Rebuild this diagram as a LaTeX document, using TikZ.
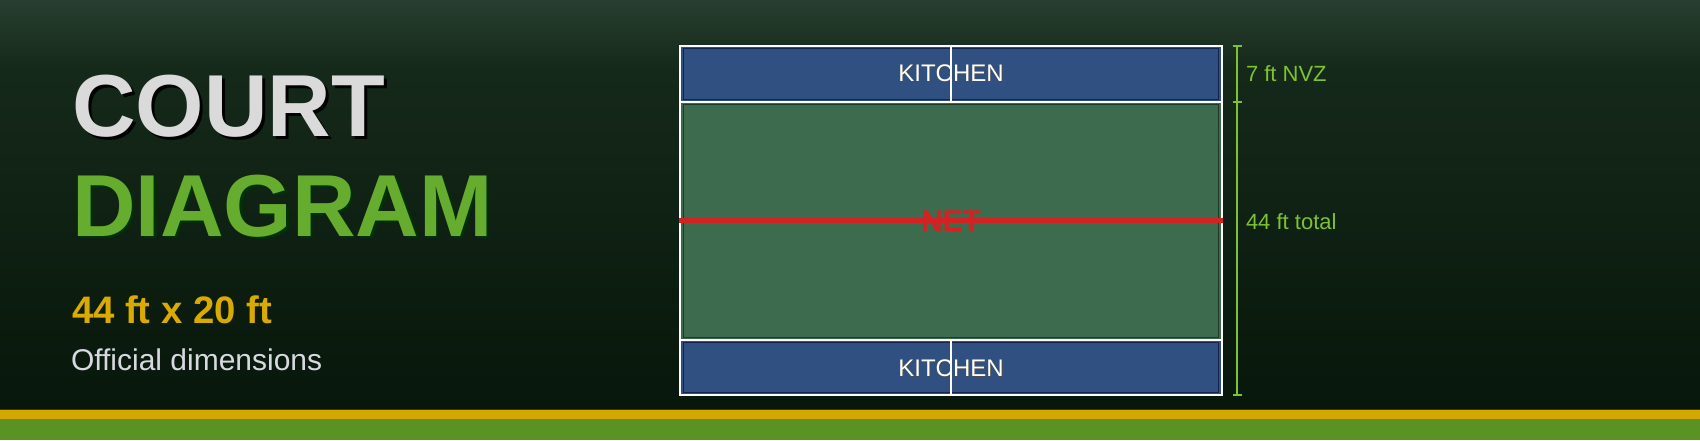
\documentclass[tikz,border=0pt]{standalone}
\usepackage{fontspec}
\setmainfont{Liberation Sans}
\definecolor{bgtop}{HTML}{283E30}
\definecolor{bgmid}{HTML}{15291A}
\definecolor{bgbot}{HTML}{07170B}
\definecolor{kitblue}{HTML}{2F5080}
\definecolor{kitedge}{HTML}{14244A}
\definecolor{courtgreen}{HTML}{3D6B4E}
\definecolor{courtedge}{HTML}{1E3A26}
\definecolor{netred}{HTML}{D42222}
\definecolor{lime}{HTML}{7DC232}
\definecolor{titlegray}{HTML}{DADADA}
\definecolor{titlegreen}{HTML}{66AC2E}
\definecolor{gold}{HTML}{D9AA00}
\definecolor{subgray}{HTML}{D8D8E0}
\definecolor{barGold}{HTML}{D4A600}
\definecolor{barGreen}{HTML}{5A9324}
\tikzset{
  txt/.style={inner sep=0pt, outer sep=0pt},
  whiteline/.style={draw=white, line width=2.2pt},
  dimline/.style={draw=lime, line width=2pt},
}
\begin{document}
\begin{tikzpicture}[x=1pt,y=-1pt]
\useasboundingbox (0,0) rectangle (1700,440);
% background
\shade[top color=bgtop, bottom color=bgmid] (0,0) rectangle (1700,70);
\shade[top color=bgmid, bottom color=bgbot] (0,70) rectangle (1700,410);
% bottom bars
\fill[black!80] (0,408.5) rectangle (1700,410.5);
\fill[barGold] (0,410) rectangle (1700,418.5);
\fill[barGreen] (0,418.5) rectangle (1700,440);

% left titles
\node[txt, anchor=base west, text=black, font=\bfseries\fontsize{88}{92}\selectfont] (courtS) at (75,139) {COURT};
\node[txt, anchor=base west, text=titlegray, font=\bfseries\fontsize{88}{92}\selectfont] (court) at (72,136) {COURT};
\node[txt, anchor=base west, text=black!80!green, font=\bfseries\fontsize{88}{92}\selectfont] (diagS) at (74.5,238.5) {DIAGRAM};
\node[txt, anchor=base west, text=titlegreen, font=\bfseries\fontsize{88}{92}\selectfont] (diag) at (72,236) {DIAGRAM};
\node[txt, anchor=base west, text=gold, font=\bfseries\fontsize{38.3}{42}\selectfont] (dims) at (72,323) {44 ft x 20 ft};
\node[txt, anchor=base west, text=subgray, font=\fontsize{30}{34}\selectfont] (official) at (71,370) {Official dimensions};

% court
\coordinate (cTL) at (680,45.7);
\coordinate (cBR) at (1221.6,395.3);
\fill[kitblue] (680,45.7) rectangle (1221.6,101.7);
\fill[kitblue] (680,339.7) rectangle (1221.6,395.3);
\fill[courtgreen] (680,101.7) rectangle (1221.6,339.7);
\draw[kitedge, line width=1pt] (683,48.5) rectangle (1218.8,99);
\draw[kitedge, line width=1pt] (683,342.5) rectangle (1218.8,392.5);
\draw[courtedge, line width=1pt] (683,104.5) rectangle (1218.8,337);
\node[txt, anchor=base, text=black!70, font=\fontsize{24}{28}\selectfont] (kit1s) at (952,82.7) {KITCHEN};
\node[txt, anchor=base, text=white, font=\fontsize{24}{28}\selectfont] (kit1) at (951,81.7) {KITCHEN};
\node[txt, anchor=base, text=black!70, font=\fontsize{24}{28}\selectfont] (kit2s) at (952,377) {KITCHEN};
\node[txt, anchor=base, text=white, font=\fontsize{24}{28}\selectfont] (kit2) at (951,376) {KITCHEN};
\draw[whiteline] (950.8,45.7) -- (950.8,101.7);
\draw[whiteline] (950.8,339.7) -- (950.8,395.3);
\draw[whiteline] (680,101.7) -- (1221.6,101.7);
\draw[whiteline] (680,339.7) -- (1221.6,339.7);
\draw[whiteline] (cTL) rectangle (cBR);
% net
\node[txt, anchor=base, text=netred, font=\bfseries\fontsize{30}{34}\selectfont] (net) at (951,231.7) {NET};
\coordinate (netL) at (679,220.3);
\coordinate (netR) at (1222.6,220.3);
\draw[netred, line width=4.5pt] (netL) -- (netR);

% dimension
\coordinate (dimtop) at (1237,46);
\coordinate (dimmid) at (1237,101.7);
\coordinate (dimbot) at (1237,394.7);
\draw[dimline] (dimtop) -- (dimbot);
\draw[dimline] ([xshift=-4.5pt]dimtop) -- ([xshift=4.5pt]dimtop);
\draw[dimline] ([xshift=-4.5pt]dimmid) -- ([xshift=4.5pt]dimmid);
\draw[dimline] ([xshift=-4.5pt]dimbot) -- ([xshift=4.5pt]dimbot);
\node[txt, anchor=base west, text=lime, font=\fontsize{22}{26}\selectfont] (nvz) at (1246,81.7) {7 ft NVZ};
\node[txt, anchor=base west, text=lime, font=\fontsize{22}{26}\selectfont] (total) at (1246,229) {44 ft total};
\end{tikzpicture}
\end{document}
